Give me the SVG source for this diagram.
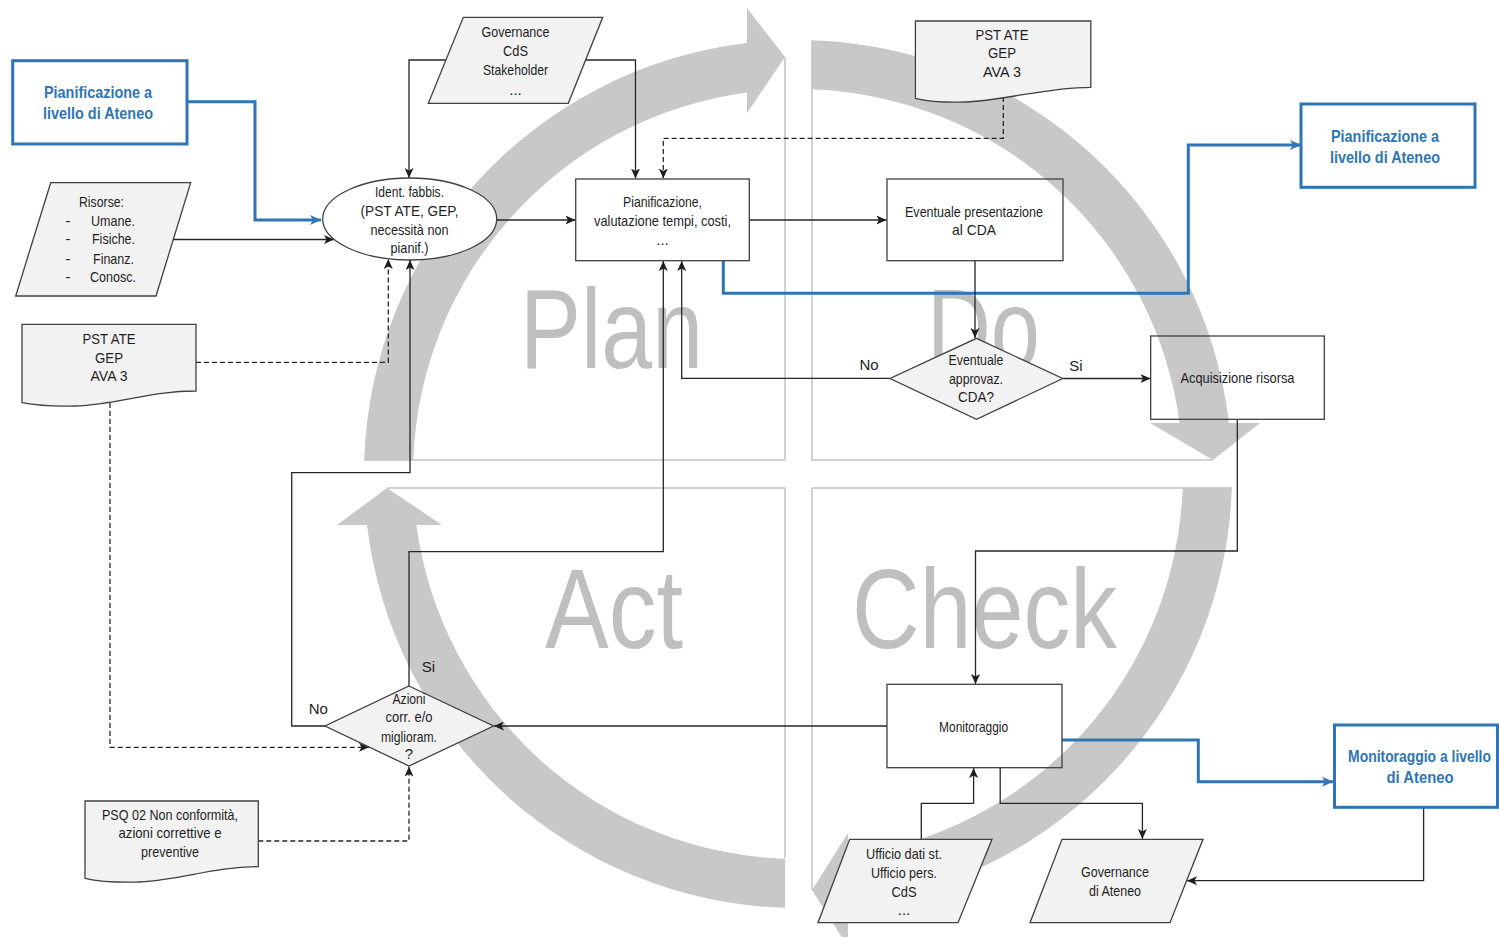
<svg xmlns="http://www.w3.org/2000/svg" width="1499" height="937" viewBox="0 0 1499 937">
  <defs>
    <style>
      .t{font-family:"Liberation Sans",Arial,sans-serif;font-size:15px;fill:#1e1e1e;text-anchor:middle}
      .bt{font-family:"Liberation Sans",Arial,sans-serif;font-size:17px;font-weight:bold;fill:#2e75b6;text-anchor:middle}
      .big{font-family:"Liberation Sans",Arial,sans-serif;font-size:114px;fill:#bfbfbf;text-anchor:middle}
      .ring{fill:#c8c8c8}
      .quad{stroke:#c4c4c4;stroke-width:1.5;fill:none}
      .c{stroke:#262626;stroke-width:1.3;fill:none}
      .d{stroke:#262626;stroke-width:1.3;fill:none;stroke-dasharray:5 3}
      .b{stroke:#2e75b6;stroke-width:3;fill:none}
      .shape{stroke:#404040;stroke-width:1.3}
      .g{fill:#f2f2f2}
      .w{fill:#ffffff}
      .n{fill:none}
      .bbox{fill:#ffffff;stroke:#2e75b6;stroke-width:3}
    </style>
    <marker id="ah" markerUnits="userSpaceOnUse" markerWidth="10" markerHeight="9" refX="10" refY="4.5" orient="auto">
      <path d="M0,0 L10,4.5 L0,9 L2.5,4.5 z" fill="#1e1e1e"/>
    </marker>
    <marker id="ahb" markerUnits="userSpaceOnUse" markerWidth="11" markerHeight="10" refX="11" refY="5" orient="auto">
      <path d="M0,0 L11,5 L0,10 L3,5 z" fill="#2e75b6"/>
    </marker>
  </defs>

  <!-- PDCA cycle backdrop -->
  <g id="pdca-cycle">
    <path class="ring" d="M364.2,460 A434,434 0 0 1 747,43 L747,8 L785,57 L747,113 L747,92.4 A385,385 0 0 0 413.3,460 Z"/>
    <path class="ring" d="M812,40.2 A434,434 0 0 1 1229,423 L1260,423 L1213,460 L1150,423 L1179.6,423 A385,385 0 0 0 812,89.3 Z"/>
    <path class="ring" d="M1231.8,488 A434,434 0 0 1 848,905.1 L848,947 L812,890 L848,833 L848,855.7 A385,385 0 0 0 1182.7,488 Z"/>
    <path class="ring" d="M785,907.8 A434,434 0 0 1 367,525 L337,525 L387,488 L442,525 L416.4,525 A385,385 0 0 0 785,858.8 Z"/>
    <path class="quad" d="M785,57 V460 H364"/>
    <path class="quad" d="M812,40 V460 H1213"/>
    <path class="quad" d="M387,488 H785 V858"/>
    <path class="quad" d="M1232,488 H812 V890"/>
    <text class="big" x="611.5" y="368" textLength="183" lengthAdjust="spacingAndGlyphs">Plan</text>
    <text class="big" x="983.5" y="368" textLength="113" lengthAdjust="spacingAndGlyphs">Do</text>
    <text class="big" x="614" y="648" textLength="138" lengthAdjust="spacingAndGlyphs">Act</text>
    <text class="big" x="984.5" y="648" textLength="265" lengthAdjust="spacingAndGlyphs">Check</text>
  </g>

  <!-- connectors -->
  <g id="connectors">
    <path class="b" d="M187,101.7 H255 V220 H321" marker-end="url(#ahb)"/>
    <path class="b" d="M723.3,260.7 V293.3 H1188.3 V145 H1301" marker-end="url(#ahb)"/>
    <path class="b" d="M1062,740 H1198.3 V781.7 H1333" marker-end="url(#ahb)"/>

    <path class="c" d="M173,239.5 H334" marker-end="url(#ah)"/>
    <path class="c" d="M446,60 H409 V178" marker-end="url(#ah)"/>
    <path class="c" d="M585.6,60 H635.5 V178.5" marker-end="url(#ah)"/>
    <path class="c" d="M496.7,220 H575.5" marker-end="url(#ah)"/>
    <path class="c" d="M749.3,220 H886.5" marker-end="url(#ah)"/>
    <path class="c" d="M975,260.7 V338" marker-end="url(#ah)"/>
    <path class="c" d="M890,378.3 H681.7 V261" marker-end="url(#ah)"/>
    <path class="c" d="M1062.7,378.5 H1150.5" marker-end="url(#ah)"/>
    <path class="c" d="M1237.3,419.3 V551 H975.5 V684" marker-end="url(#ah)"/>
    <path class="c" d="M887,726 H494" marker-end="url(#ah)"/>
    <path class="c" d="M409,686 V551.7 H663.3 V261" marker-end="url(#ah)"/>
    <path class="c" d="M325,726 H291.7 V472.7 H410 V260" marker-end="url(#ah)"/>
    <path class="c" d="M921.3,839.3 V803.3 H973.6 V768" marker-end="url(#ah)"/>
    <path class="c" d="M1000.2,767.7 V803.3 H1142.4 V839" marker-end="url(#ah)"/>
    <path class="c" d="M1423.6,807.3 V880.7 H1187" marker-end="url(#ah)"/>

    <path class="d" d="M196,362.3 H388.3 V259" marker-end="url(#ah)"/>
    <path class="d" d="M110,403 V747.3 H369" marker-end="url(#ah)"/>
    <path class="d" d="M1003.3,97 V138.3 H663.3 V178.5" marker-end="url(#ah)"/>
    <path class="d" d="M258.3,841 H409 V766.5" marker-end="url(#ah)"/>
  </g>

  <g id="pian-ateneo-left">
    <rect class="bbox" x="12.7" y="60.7" width="174.3" height="83.3"/>
    <text class="bt" x="98" y="97.7" textLength="108" lengthAdjust="spacingAndGlyphs">Pianificazione a</text>
    <text class="bt" x="98" y="118.7" textLength="110" lengthAdjust="spacingAndGlyphs">livello di Ateneo</text>
  </g>

  <g id="governance-cds">
    <path class="shape g" d="M463.3,17.3 H602.7 L568.3,103.3 H428.3 Z"/>
    <text class="t" x="515.5" y="37.3" textLength="68" lengthAdjust="spacingAndGlyphs">Governance</text>
    <text class="t" x="515.5" y="55.7" textLength="25" lengthAdjust="spacingAndGlyphs">CdS</text>
    <text class="t" x="515.5" y="75" textLength="65" lengthAdjust="spacingAndGlyphs">Stakeholder</text>
    <text class="t" x="515.5" y="95">...</text>
  </g>

  <g id="risorse">
    <path class="shape g" d="M50.7,182.7 H190.7 L156,296 H15.7 Z"/>
    <text class="t" x="101.5" y="206.7" textLength="45" lengthAdjust="spacingAndGlyphs">Risorse:</text>
    <text class="t" x="68" y="225.7">-</text>
    <text class="t" x="68" y="244">-</text>
    <text class="t" x="68" y="264">-</text>
    <text class="t" x="68" y="282.3">-</text>
    <text class="t" x="113" y="225.7" textLength="44" lengthAdjust="spacingAndGlyphs">Umane.</text>
    <text class="t" x="113.5" y="244" textLength="43" lengthAdjust="spacingAndGlyphs">Fisiche.</text>
    <text class="t" x="113.5" y="264" textLength="41" lengthAdjust="spacingAndGlyphs">Finanz.</text>
    <text class="t" x="113" y="282.3" textLength="46" lengthAdjust="spacingAndGlyphs">Conosc.</text>
  </g>

  <g id="ident-fabbisogni">
    <ellipse class="shape w" cx="409.7" cy="219" rx="87" ry="41"/>
    <text class="t" x="409.5" y="196.7" textLength="69" lengthAdjust="spacingAndGlyphs">Ident. fabbis.</text>
    <text class="t" x="409.5" y="215.7" textLength="98" lengthAdjust="spacingAndGlyphs">(PST ATE, GEP,</text>
    <text class="t" x="409.5" y="235" textLength="78" lengthAdjust="spacingAndGlyphs">necessità  non</text>
    <text class="t" x="409.5" y="253.3" textLength="38" lengthAdjust="spacingAndGlyphs">pianif.)</text>
  </g>

  <g id="doc-pst-left">
    <path class="shape g" d="M22,324.3 H196 V391 C150,391 120,404 75,406 Q45,407 22,402.7 Z"/>
    <text class="t" x="109" y="344.3" textLength="53" lengthAdjust="spacingAndGlyphs">PST ATE</text>
    <text class="t" x="109" y="362.7" textLength="28" lengthAdjust="spacingAndGlyphs">GEP</text>
    <text class="t" x="109" y="381" textLength="37" lengthAdjust="spacingAndGlyphs">AVA 3</text>
  </g>

  <g id="pianificazione">
    <rect class="shape n" x="575.7" y="179" width="173.6" height="81.7"/>
    <text class="t" x="662.5" y="206.7" textLength="79" lengthAdjust="spacingAndGlyphs">Pianificazione,</text>
    <text class="t" x="662.5" y="225.7" textLength="137" lengthAdjust="spacingAndGlyphs">valutazione  tempi, costi,</text>
    <text class="t" x="662.5" y="245">...</text>
  </g>

  <g id="doc-pst-right">
    <path class="shape g" d="M915.4,21 H1090.8 V87.3 C1045,87.3 1010,100 965,102 Q935,103 915.4,98.3 Z"/>
    <text class="t" x="1002" y="40" textLength="53" lengthAdjust="spacingAndGlyphs">PST ATE</text>
    <text class="t" x="1002" y="58.3" textLength="28" lengthAdjust="spacingAndGlyphs">GEP</text>
    <text class="t" x="1002" y="76.7" textLength="38" lengthAdjust="spacingAndGlyphs">AVA 3</text>
  </g>

  <g id="presentazione-cda">
    <rect class="shape n" x="887" y="179" width="176" height="81.7"/>
    <text class="t" x="974" y="216.7" textLength="138" lengthAdjust="spacingAndGlyphs">Eventuale presentazione</text>
    <text class="t" x="974" y="235" textLength="44" lengthAdjust="spacingAndGlyphs">al CDA</text>
  </g>

  <g id="pian-ateneo-right">
    <rect class="bbox" x="1301" y="104" width="174" height="83.3"/>
    <text class="bt" x="1385" y="141.7" textLength="108" lengthAdjust="spacingAndGlyphs">Pianificazione a</text>
    <text class="bt" x="1385" y="162.7" textLength="110" lengthAdjust="spacingAndGlyphs">livello di Ateneo</text>
  </g>

  <g id="approvazione-cda">
    <path class="shape g" d="M976.5,338.3 L1062.7,378.5 L976.5,419.3 L890,378.5 Z"/>
    <text class="t" x="976" y="365" textLength="55" lengthAdjust="spacingAndGlyphs">Eventuale</text>
    <text class="t" x="976" y="384" textLength="54" lengthAdjust="spacingAndGlyphs">approvaz.</text>
    <text class="t" x="976" y="401.7" textLength="36" lengthAdjust="spacingAndGlyphs">CDA?</text>
    <text class="t" x="869" y="370">No</text>
    <text class="t" x="1076" y="370.7">Si</text>
  </g>

  <g id="acquisizione">
    <rect class="shape n" x="1150.7" y="336" width="173.6" height="83.3"/>
    <text class="t" x="1237.5" y="383.3" textLength="114" lengthAdjust="spacingAndGlyphs">Acquisizione  risorsa</text>
  </g>

  <g id="monitoraggio">
    <rect class="shape n" x="887" y="684.3" width="175" height="83.4"/>
    <text class="t" x="973.6" y="731.7" textLength="69" lengthAdjust="spacingAndGlyphs">Monitoraggio</text>
  </g>

  <g id="monitoraggio-ateneo">
    <rect class="bbox" x="1334.5" y="725" width="163" height="82.3"/>
    <text class="bt" transform="translate(1419.5,762) scale(0.818,1)">Monitoraggio a livello</text>
    <text class="bt" x="1420" y="782.7" textLength="67" lengthAdjust="spacingAndGlyphs">di Ateneo</text>
  </g>

  <g id="azioni-correttive">
    <path class="shape g" d="M409,686 L493.5,726 L409,766 L325,726 Z"/>
    <text class="t" x="409" y="704" textLength="33" lengthAdjust="spacingAndGlyphs">Azioni</text>
    <text class="t" x="409" y="722.3" textLength="47" lengthAdjust="spacingAndGlyphs">corr. e/o</text>
    <text class="t" x="409" y="742.3" textLength="56" lengthAdjust="spacingAndGlyphs">miglioram.</text>
    <text class="t" x="409" y="759.3">?</text>
    <text class="t" x="318.3" y="714">No</text>
    <text class="t" x="428.3" y="671.7">Si</text>
  </g>

  <g id="doc-psq02">
    <path class="shape g" d="M85,801 H258.3 V866.7 C215,866.7 180,880 140,882 Q105,883 85,878.3 Z"/>
    <text class="t" x="170" y="820" textLength="136" lengthAdjust="spacingAndGlyphs">PSQ 02 Non conformità,</text>
    <text class="t" x="170" y="838.3" textLength="103" lengthAdjust="spacingAndGlyphs">azioni  correttive  e</text>
    <text class="t" x="170" y="857.3" textLength="58" lengthAdjust="spacingAndGlyphs">preventive</text>
  </g>

  <g id="uffici">
    <path class="shape g" d="M849.7,839.3 H992 L958,922.7 H818 Z"/>
    <text class="t" x="904" y="859.3" textLength="76" lengthAdjust="spacingAndGlyphs">Ufficio dati st.</text>
    <text class="t" x="904" y="877.7" textLength="66" lengthAdjust="spacingAndGlyphs">Ufficio pers.</text>
    <text class="t" x="904" y="896.7" textLength="25" lengthAdjust="spacingAndGlyphs">CdS</text>
    <text class="t" x="904" y="915">...</text>
  </g>

  <g id="governance-ateneo">
    <path class="shape g" d="M1062,839.3 H1203 L1170,922.7 H1030 Z"/>
    <text class="t" x="1115" y="877.3" textLength="68" lengthAdjust="spacingAndGlyphs">Governance</text>
    <text class="t" x="1115" y="895.7" textLength="52" lengthAdjust="spacingAndGlyphs">di Ateneo</text>
  </g>
</svg>
